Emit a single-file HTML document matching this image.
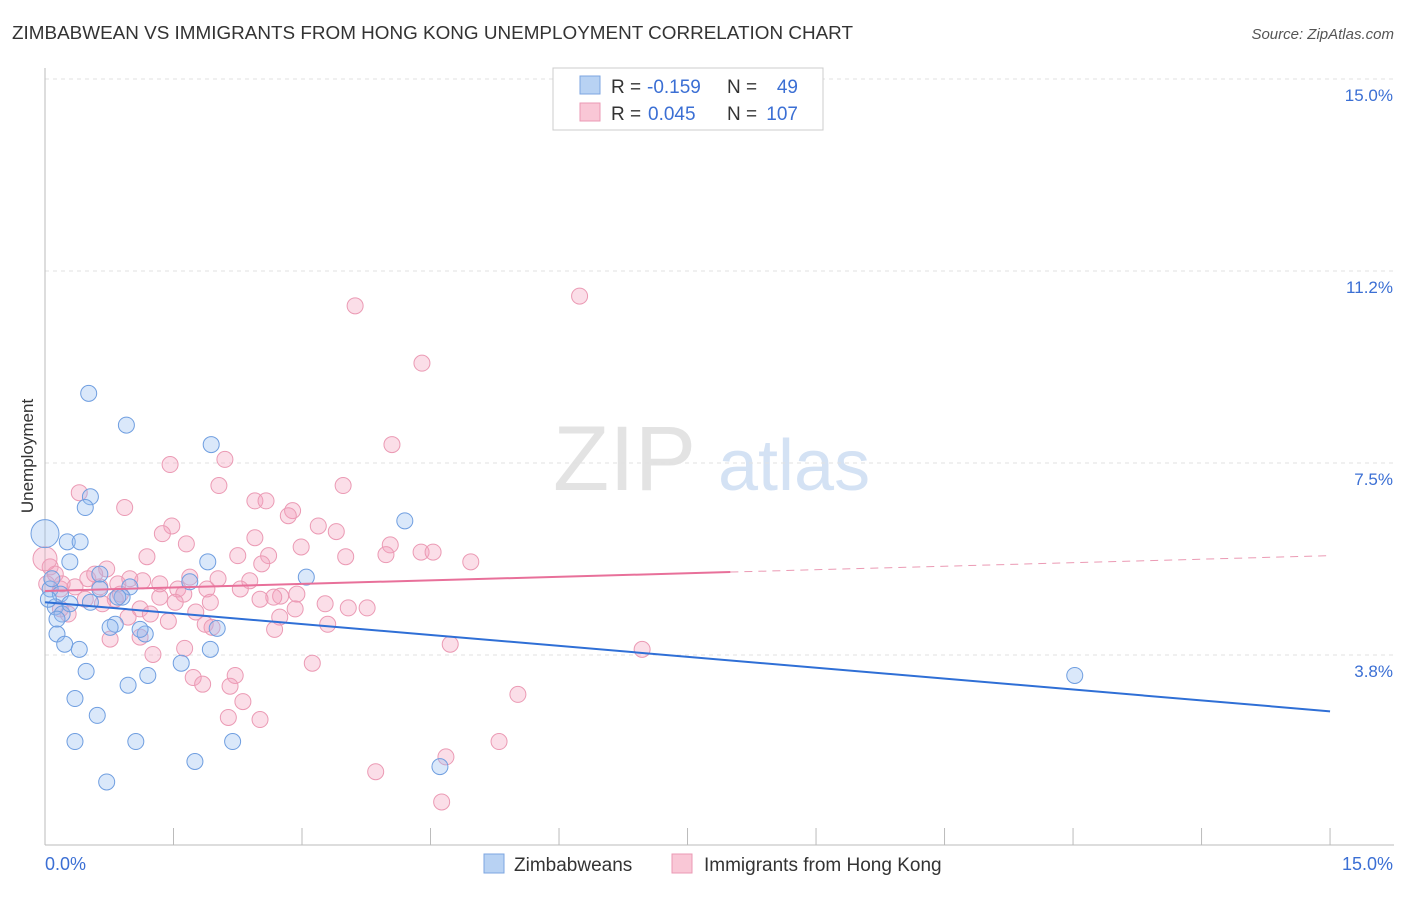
<!DOCTYPE html>
<html><head><meta charset="utf-8">
<style>
body{margin:0;background:#fff;font-family:"Liberation Sans",sans-serif;}
svg text{font-family:"Liberation Sans",sans-serif;}
</style></head>
<body>
<svg id="chart" width="1406" height="892" xmlns="http://www.w3.org/2000/svg">
<text x="12" y="39" font-size="18" fill="#333" textLength="841" lengthAdjust="spacingAndGlyphs">ZIMBABWEAN VS IMMIGRANTS FROM HONG KONG UNEMPLOYMENT CORRELATION CHART</text>
<text x="1394" y="39" font-size="15" fill="#555" text-anchor="end" font-style="italic">Source: ZipAtlas.com</text>
<g>
<text x="553" y="490" font-size="92" fill="#d8d8d8" font-family="Liberation Serif" opacity="0.7">ZIP</text>
<text x="718" y="490" font-size="72" fill="#b8cfee" opacity="0.6">atlas</text>
</g>
<g id="grid"></g>
<g id="axes"></g>
<g id="marks"></g>
<text transform="translate(33,456) rotate(-90)" font-size="17" fill="#333" text-anchor="middle">Unemployment</text>
<g>
<rect x="553" y="68" width="270" height="62" fill="#fff" stroke="#ccc"/>
<rect x="580" y="76" width="20" height="18" fill="#b8d2f3" stroke="#7ca6e0"/>
<text x="611" y="93" font-size="19" fill="#333">R =</text>
<text x="647" y="93" font-size="19" fill="#3b6fd4">-0.159</text>
<text x="727" y="93" font-size="19" fill="#333">N =</text>
<text x="798" y="93" font-size="19" fill="#3b6fd4" text-anchor="end">49</text>
<rect x="580" y="103" width="20" height="18" fill="#f9c7d6" stroke="#eb9ab4"/>
<text x="611" y="120" font-size="19" fill="#333">R =</text>
<text x="648" y="120" font-size="19" fill="#3b6fd4">0.045</text>
<text x="727" y="120" font-size="19" fill="#333">N =</text>
<text x="798" y="120" font-size="19" fill="#3b6fd4" text-anchor="end">107</text>
</g>
<g>
<rect x="484" y="854" width="20" height="19" fill="#b8d2f3" stroke="#7ca6e0"/>
<text x="514" y="871" font-size="19" fill="#333">Zimbabweans</text>
<rect x="672" y="854" width="20" height="19" fill="#f9c7d6" stroke="#eb9ab4"/>
<text x="704" y="871" font-size="19" fill="#333">Immigrants from Hong Kong</text>
</g>
</svg>
<script>
const yTicks=[3.8,7.5,11.2,15.0];
const yTickPos=[3.75,7.5,11.25,15.0];
const xTickLabels=["0.0%","15.0%"];
const blueX=[0,.51,.95,1.94,.53,.47,4.20,.26,.41,.29,1.90,3.05,1.69,.99,.64,.06,.18,.53,.90,.12,.20,.14,.82,2.01,.14,1.17,.23,.40,1.93,1.59,.48,1.20,.97,.35,.61,.35,1.06,2.19,1.75,.72,4.61,12.02,.04,.08,.76,.85,.29,1.11,.64];
const blueY=[6.12,8.86,8.24,7.86,6.84,6.63,6.37,5.96,5.96,5.57,5.57,5.27,5.18,5.08,5.33,5.04,4.94,4.78,4.88,4.69,4.55,4.45,4.35,4.27,4.16,4.16,3.96,3.86,3.86,3.59,3.43,3.35,3.16,2.90,2.57,2.06,2.06,2.06,1.67,1.27,1.57,3.35,4.84,5.24,4.29,4.88,4.75,4.25,5.04];
const pinkX=[6.24,3.62,4.40,4.05,1.46,2.10,2.03,3.48,.40,.93,2.45,2.58,2.89,2.84,1.48,3.19,3.40,2.45,1.37,1.65,2.99,4.03,1.19,2.25,2.61,3.51,3.98,4.39,4.53,4.97,2.53,.72,.06,.12,0,1.69,2.02,2.39,1.14,.50,.18,.64,.85,1.55,1.89,2.94,2.75,2.67,1.34,1.62,.47,.82,1.93,3.27,3.54,3.76,1.11,1.23,1.76,2.74,.27,.97,1.44,1.87,1.95,3.30,2.68,.76,1.11,1.63,1.26,4.73,6.97,3.12,2.22,1.73,1.84,2.16,2.31,5.52,2.14,2.51,5.30,4.68,3.86,4.63,.20,.58,.99,1.52,.67,2.51,2.92,1.34,2.28,.18,.88,.35,.02];
const pinkY=[10.76,10.57,9.45,7.86,7.47,7.57,7.06,7.06,6.92,6.63,6.76,6.76,6.57,6.47,6.27,6.27,6.16,6.04,6.12,5.92,5.86,5.90,5.67,5.69,5.69,5.67,5.71,5.76,5.76,5.57,5.53,5.43,5.47,5.33,5.63,5.27,5.24,5.20,5.20,5.24,5.04,5.08,5.14,5.04,5.04,4.94,4.90,4.88,4.88,4.94,4.84,4.84,4.78,4.75,4.67,4.67,4.65,4.55,4.59,4.49,4.55,4.49,4.41,4.35,4.29,4.35,4.25,4.06,4.10,3.88,3.76,3.96,3.86,3.59,3.35,3.31,3.18,3.14,2.84,2.98,2.53,2.49,2.06,1.76,1.47,0.88,5.14,5.33,5.24,4.78,4.75,4.84,4.65,5.14,5.04,4.65,4.94,5.08,5.14];
const blueTrendX=[0,15];
const blueTrendY=[4.78,2.65];
const pinkTrendX=[0,8.0,15];
const pinkTrendY=[5.0,5.37,5.69];

const NS="http://www.w3.org/2000/svg";
const X=v=>45+v*85.67;
const Y=v=>847-v*51.2;
function mk(tag,attrs,parent){const e=document.createElementNS(NS,tag);for(const k in attrs)e.setAttribute(k,attrs[k]);parent.appendChild(e);return e;}
const grid=document.getElementById('grid'),axes=document.getElementById('axes'),marks=document.getElementById('marks');
yTickPos.forEach((v,i)=>{
  const l=mk('line',{x1:45,x2:1394,y1:Y(v),y2:Y(v),stroke:'#e2e2e2','stroke-dasharray':'4,4'},grid);
  
  
  const t=mk('text',{x:1393,y:Y(v)+22,'font-size':17,fill:'#3b6fd4','text-anchor':'end'},axes);
  t.textContent=yTicks[i].toFixed(1)+'%';
  
  
});
const al=mk('line',{x1:45,x2:45,y1:68,y2:845,stroke:'#bbb'},axes);


const bl=mk('line',{x1:45,x2:1394,y1:845,y2:845,stroke:'#bbb'},axes);


for(let i=0;i<=10;i++){
  const tk=mk('line',{x1:X(i*1.5),x2:X(i*1.5),y1:828,y2:845,stroke:'#bbb'},axes);
  
  
}
const xl0=mk('text',{x:45,y:870,'font-size':18,fill:'#3b6fd4'},axes);
xl0.textContent=xTickLabels[0];


const xl1=mk('text',{x:1393,y:870,'font-size':18,fill:'#3b6fd4','text-anchor':'end'},axes);
xl1.textContent=xTickLabels[1];



pinkX.forEach((x,i)=>{
  const c=mk('circle',{cx:X(x),cy:Y(pinkY[i]),r:(i==34||i==104)?12:8,fill:'rgba(244,160,188,0.35)',stroke:'#eb9ab4','stroke-width':1},marks);
  
  
});
blueX.forEach((x,i)=>{
  const c=mk('circle',{cx:X(x),cy:Y(blueY[i]),r:i==0?14:8,fill:'rgba(150,190,240,0.35)',stroke:'#6f9ee0','stroke-width':1},marks);
  
  
});
const bt=mk('line',{x1:X(blueTrendX[0]),y1:Y(blueTrendY[0]),x2:X(blueTrendX[1]),y2:Y(blueTrendY[1]),stroke:'#2f6fd6','stroke-width':2},marks);


const pt=mk('line',{x1:X(pinkTrendX[0]),y1:Y(pinkTrendY[0]),x2:X(pinkTrendX[1]),y2:Y(pinkTrendY[1]),stroke:'#e8709a','stroke-width':2},marks);


const pd=mk('line',{x1:X(pinkTrendX[1]),y1:Y(pinkTrendY[1]),x2:X(pinkTrendX[2]),y2:Y(pinkTrendY[2]),stroke:'#eb9ab4','stroke-width':1,'stroke-dasharray':'8,6'},marks);


</script>
</body></html>
